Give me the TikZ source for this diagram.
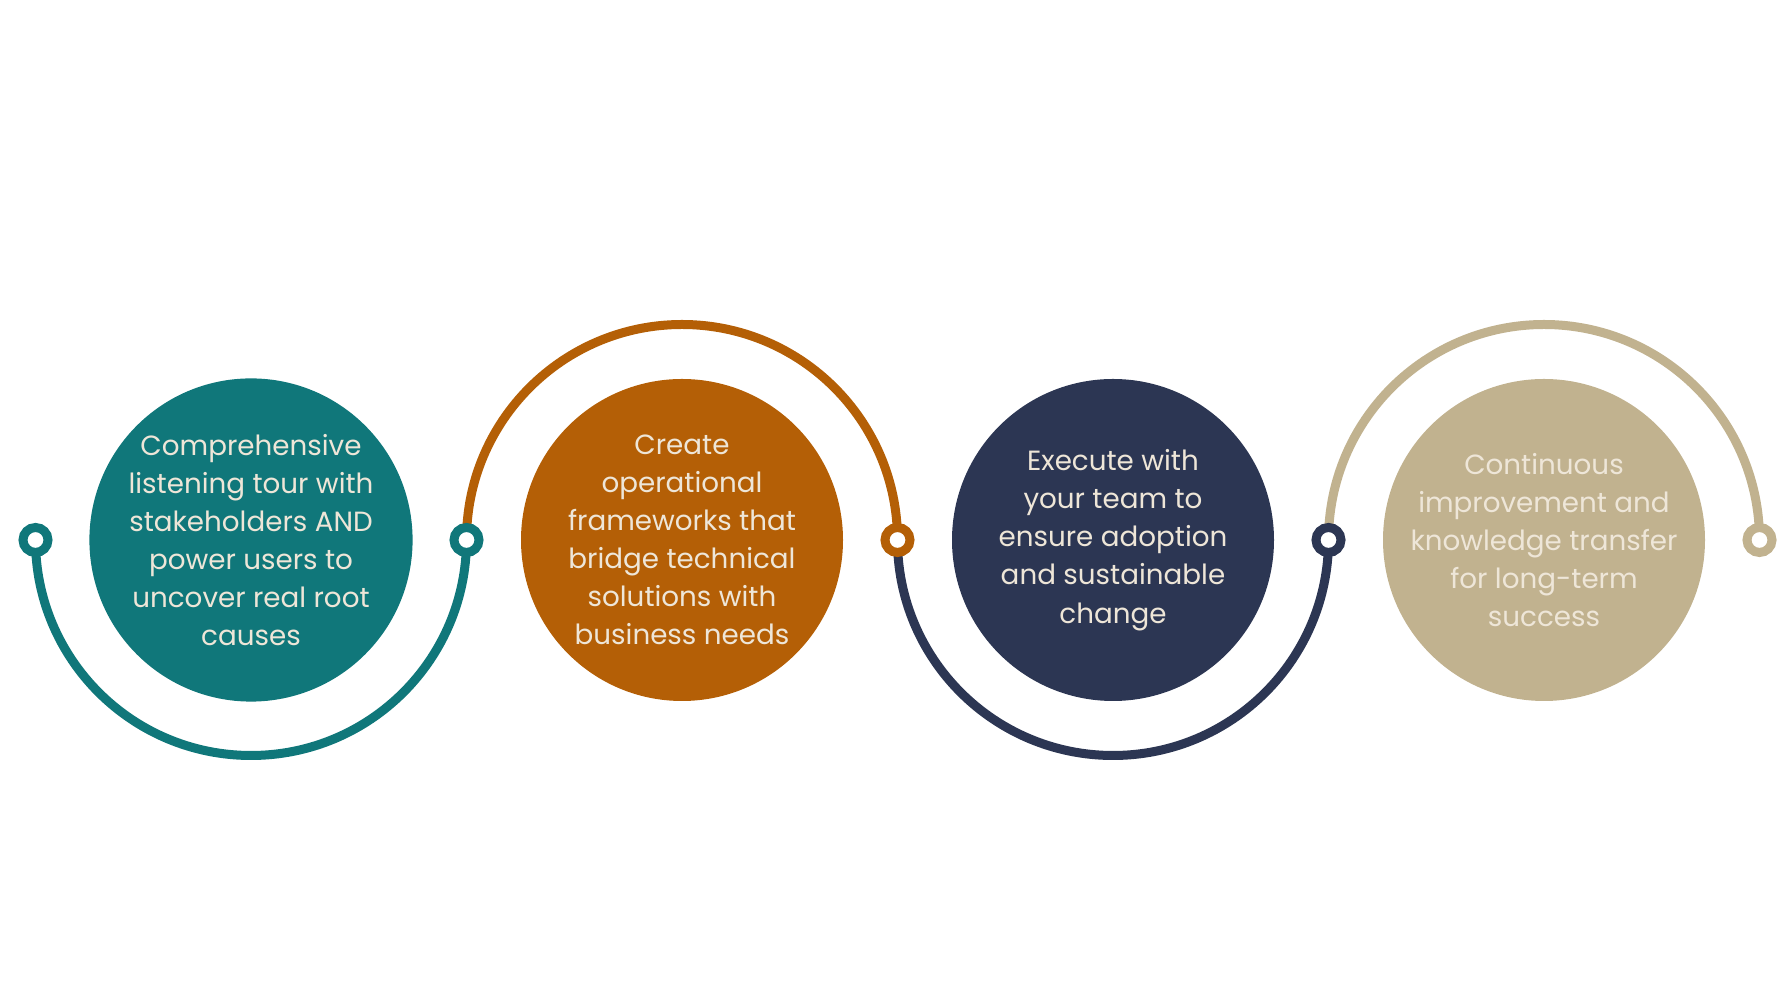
\documentclass[tikz,border=0pt]{standalone}
\usepackage{fontspec}
\setmainfont{Poppins}
\usepackage{tikz}
\usetikzlibrary{positioning, calc}
\usepackage{xcolor}
\definecolor{stepteal}{HTML}{10777A}
\definecolor{steporange}{HTML}{B45F06}
\definecolor{stepnavy}{HTML}{2C3653}
\definecolor{steptan}{HTML}{C1B28F}
\definecolor{creamtext}{HTML}{EEE6D8}

\begin{document}
\begin{tikzpicture}[
    stepdisc/.style={circle, minimum size=6.44cm, inner sep=0pt, align=center,
        text=creamtext, font=\fontsize{15.8}{21.7}\selectfont},
    joint/.style={circle, draw, fill=white, line width=0.18cm, minimum size=0.5cm, inner sep=0pt},
    track/.style={line width=0.18cm},
]
\useasboundingbox (0,0) rectangle (35.64,20.04);

% the four steps
\node[stepdisc, fill=stepteal]  (s1) at (5.02,9.24)  {Comprehensive\\listening tour with\\stakeholders AND\\power users to\\uncover real root\\causes};
\node[stepdisc, fill=steporange] (s2) at (13.64,9.24) {Create\\operational\\frameworks that\\bridge technical\\solutions with\\business needs};
\node[stepdisc, fill=stepnavy]  (s3) at (22.26,9.24) {Execute with\\your team to\\ensure adoption\\and sustainable\\change};
\node[stepdisc, fill=steptan]   (s4) at (30.88,9.24) {Continuous\\improvement and\\knowledge transfer\\for long-term\\success};

% ends of the arcs
\coordinate (j1) at (0.71,9.24);
\coordinate (j2) at (9.33,9.24);
\coordinate (j3) at (17.95,9.24);
\coordinate (j4) at (26.57,9.24);
\coordinate (j5) at (35.19,9.24);

% arcs
\draw[track, stepteal]   (j1) arc[start angle=180, end angle=360, radius=4.31];
\draw[track, steporange] (j2) arc[start angle=180, end angle=0, radius=4.31];
\draw[track, stepnavy]   (j3) arc[start angle=180, end angle=360, radius=4.31];
\draw[track, steptan]    (j4) arc[start angle=180, end angle=0, radius=4.31];

% rings
\node[joint, draw=stepteal]   (r1) at (j1) {};
\node[joint, draw=stepteal]   (r2) at (j2) {};
\node[joint, draw=steporange] (r3) at (j3) {};
\node[joint, draw=stepnavy]   (r4) at (j4) {};
\node[joint, draw=steptan]    (r5) at (j5) {};

\end{tikzpicture}
\end{document}
